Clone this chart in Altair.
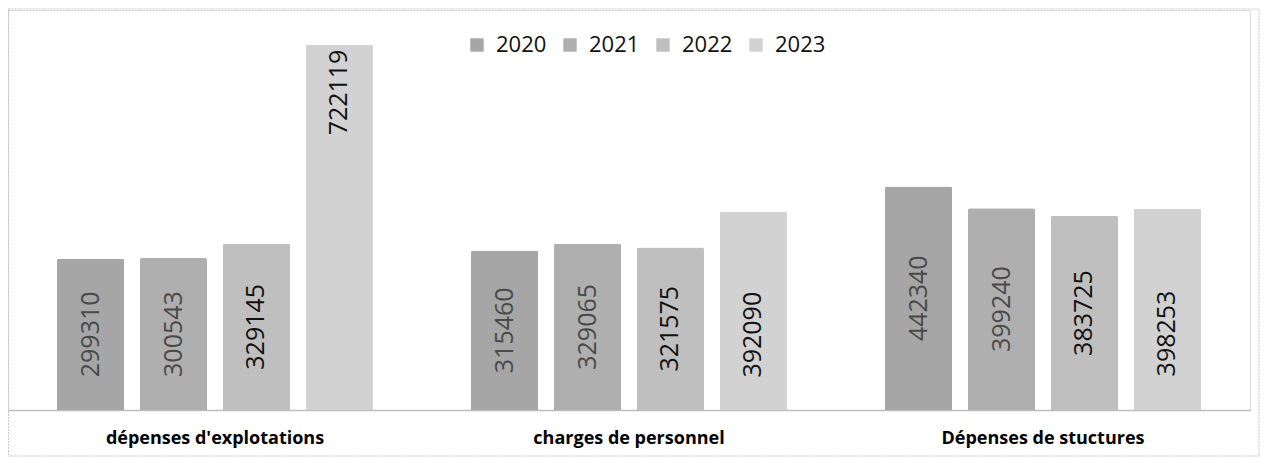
import altair as alt
import pandas as pd

categories = ["dépenses d'explotations", "charges de personnel", "Dépenses de stuctures"]
years = ["2020", "2021", "2022", "2023"]
v2020 = [299310, 315460, 442340]
v2021 = [300543, 329065, 399240]
v2022 = [329145, 321575, 383725]
v2023 = [722119, 392090, 398253]

series = {"2020": v2020, "2021": v2021, "2022": v2022, "2023": v2023}
rows = []
for y in years:
    for c, v in zip(categories, series[y]):
        rows.append({"cat": c, "year": y, "value": v})
df = pd.DataFrame(rows)

colors = ["#a6a6a6", "#afafaf", "#bfbfbf", "#d2d2d2"]
W, H = 1242, 400
YMAX = 791400

x = alt.X("cat:N", sort=categories, title=None,
          scale=alt.Scale(paddingInner=0, paddingOuter=0),
          axis=alt.Axis(labelAngle=0, labelFont="Open Sans", labelFontWeight="bold",
                        labelFontSize=18, labelColor="#000", labelPadding=19,
                        labelLimit=0, ticks=False, domainColor="#bdbdbd",
                        domainWidth=1.5))
xo = alt.XOffset("year:N", sort=years,
                 scale=alt.Scale(paddingInner=0.19, paddingOuter=0.59))
yenc = alt.Y("value:Q", scale=alt.Scale(domain=[0, YMAX]), axis=None)

base = alt.Chart(df)

bars = base.mark_bar(cornerRadiusTopLeft=2, cornerRadiusTopRight=2).encode(
    x=x, xOffset=xo, y=yenc,
    color=alt.Color("year:N", sort=years,
                    scale=alt.Scale(domain=years, range=colors),
                    legend=alt.Legend(title=None, orient="none", direction="horizontal",
                                      legendX=458, legendY=24,
                                      symbolType="square", symbolSize=180,
                                      symbolStrokeWidth=0,
                                      labelFont="Open Sans", labelFontSize=22,
                                      labelColor="#111", columnPadding=12,
                                      labelOffset=8)),
)

labels = base.transform_calculate(
    pos="datum.year == '2023' ? (datum.value > 600000 ? datum.value * 0.87 : datum.value * 0.38) : datum.value / 2"
).mark_text(angle=270, font="Open Sans", fontSize=25, align="center",
            baseline="middle").encode(
    x=x, xOffset=xo,
    y=alt.Y("pos:Q", scale=alt.Scale(domain=[0, YMAX]), axis=None),
    text="value:Q",
    color=alt.condition("datum.year == '2020' || datum.year == '2021'",
                        alt.value("#4a4a4a"), alt.value("#111111")),
)

frame = alt.Chart(pd.DataFrame({"a": [0]})).mark_rect(
    fill=None, stroke="#c8c8c8", strokeWidth=1, strokeDash=[2, 1]
).encode(x=alt.value(0.5), x2=alt.value(W + 9), y=alt.value(-1), y2=alt.value(H + 46))

chart = alt.layer(frame, bars, labels).properties(
    width=W, height=H, padding=0
).configure_view(stroke=None).configure(background="white")

chart.save("out.html", embed_options={"renderer": "svg", "actions": False})
